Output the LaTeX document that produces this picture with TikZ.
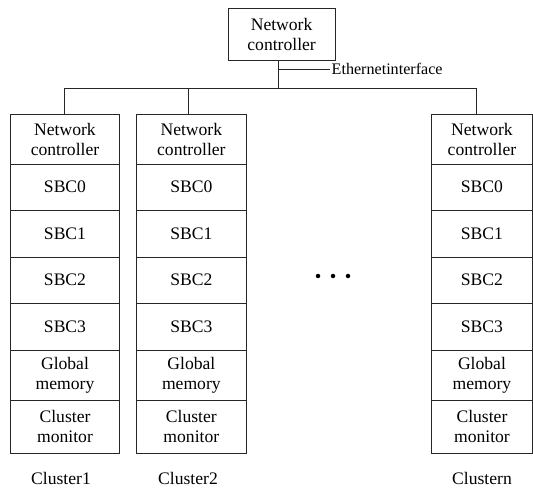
\documentclass[tikz,border=0pt]{standalone}
\usepackage{fontspec}
\setmainfont{Liberation Serif}
\begin{document}
\begin{tikzpicture}[x=1pt,y=-1pt,
  cell/.style={draw=black!85, line width=0.8pt, inner sep=0pt, align=center,
    font=\fontsize{17.6}{20}\selectfont},
  link/.style={draw=black!85, line width=0.8pt},
  lbl/.style={inner sep=0pt, font=\fontsize{17.6}{20}\selectfont},
  dot/.style={circle, fill=black, inner sep=0pt, minimum size=4.5pt}]
\useasboundingbox (0,0) rectangle (533,489);
% top controller
\node[cell, minimum width=106.7pt, minimum height=52pt] (top) at (281.6,34.3) {Network\\controller};
% columns
\foreach \col/\L/\R in {1/10.7/119.3, 2/136.7/246, n/431.7/532.2} {
  \foreach \i/\t/\b/\txt in {0/114/164/{Network\\controller}, 1/164/210/{SBC0}, 2/210/257/{SBC1},
      3/257/303/{SBC2}, 4/303/350/{SBC3}, 5/350/400/{Global\\memory}, 6/400/453/{Cluster\\monitor}} {
    \node[cell, minimum width={(\R-\L)*1pt}, minimum height={(\b-\t)*1pt}]
      (c\col-\i) at ({(\L+\R)/2},{(\t+\b)/2}) {\txt};
  }
}
% bus
\coordinate (j) at (278.7,88.3);
\coordinate (b1) at (64,88.3);
\coordinate (b2) at (188.3,88.3);
\coordinate (bn) at (476.7,88.3);
\coordinate (e) at (330,69);
\draw[link] (j |- top.south) -- (j);
\draw[link] (b1) -- (bn);
\draw[link] (b1) -- (b1 |- c1-0.north);
\draw[link] (b2) -- (b2 |- c2-0.north);
\draw[link] (bn) -- (bn |- cn-0.north);
\draw[link] (j |- e) -- (e);
\node[lbl, anchor=west, font=\fontsize{16.1}{18}\selectfont] (eth) at (331.5,69) {Ethernetinterface};
% dots
\node[dot] (d1) at (318,276) {};
\node[dot] (d2) at (333,276) {};
\node[dot] (d3) at (348,276) {};
% cluster labels
\node[lbl] (l1) at (61,478) {Cluster1};
\node[lbl] (l2) at (188,478) {Cluster2};
\node[lbl] (ln) at (482,478) {Clustern};
\end{tikzpicture}
\end{document}
